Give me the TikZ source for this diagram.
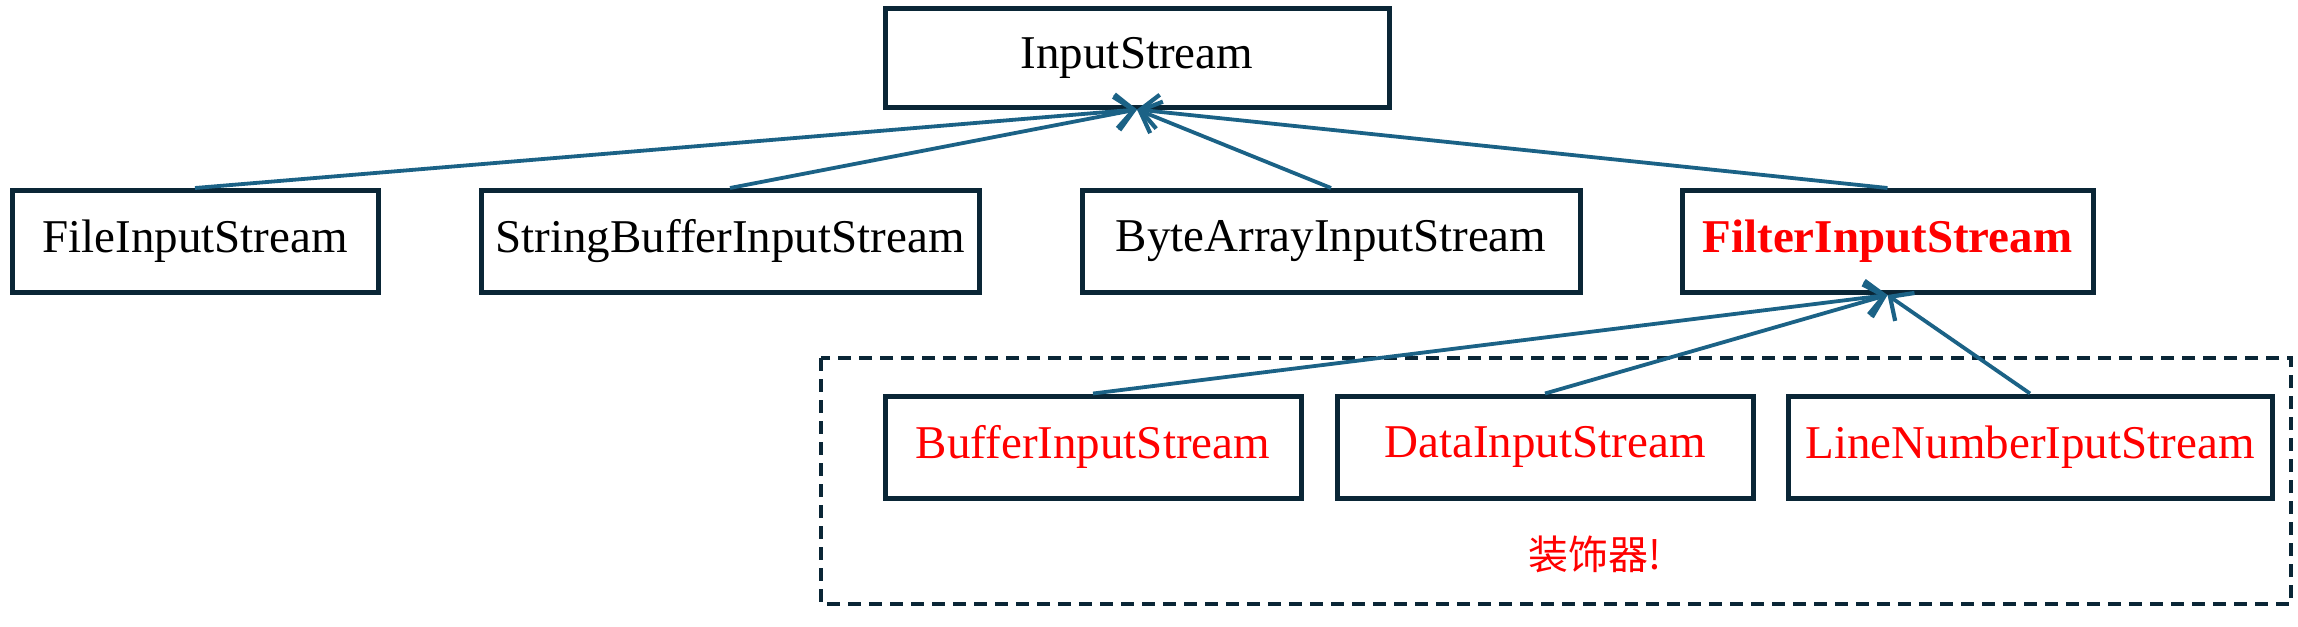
\documentclass[tikz,border=0pt]{standalone}
\usepackage{fontspec}
\setmainfont{Liberation Serif}
\newfontfamily\cjk{Noto Sans CJK SC}
\usetikzlibrary{arrows.meta}
\definecolor{boxline}{HTML}{0A2636}
\definecolor{arrowcol}{HTML}{1B6286}
\definecolor{redtxt}{HTML}{FF0000}
\tikzset{
  classbox/.style={draw=boxline, line width=5pt, fill=white, inner sep=2pt,
    minimum height=102pt, font=\fontsize{47}{56}\selectfont},
  redbox/.style={classbox, text=redtxt},
  inherit/.style={draw=arrowcol, line width=3.8pt,
    -{Straight Barb[length=18pt,width=34pt,line width=4.2pt]}},
}
\begin{document}
\begin{tikzpicture}[x=1pt,y=-1pt]
\useasboundingbox (0,0) rectangle (2298,626);
% dashed group
\draw[boxline, line width=4.5pt, dash pattern=on 13pt off 8pt] (821,358) rectangle (2291,604);
% nodes
\node[classbox, minimum width=504pt, minimum height=98pt] (is) at (1137,58) {InputStream};
\node[classbox, minimum width=366pt] (fis) at (195,241.5) {FileInputStream};
\node[classbox, minimum width=498pt] (sbis) at (730,241.5) {StringBufferInputStream};
\node[classbox, minimum width=498pt] (bais) at (1331,241.5) {ByteArrayInputStream};
\node[redbox, minimum width=411pt, font=\fontsize{47}{56}\selectfont\bfseries] (filt) at (1887.5,241.5) {FilterInputStream};
\node[redbox, minimum width=416pt] (buf) at (1093,447) {BufferInputStream};
\node[redbox, minimum width=416pt] (dat) at (1545,447) {DataInputStream};
\node[redbox, minimum width=484pt] (lin) at (2030,447) {LineNumberIputStream};
\node[text=redtxt, font=\cjk\fontsize{40}{44}\selectfont, inner sep=0pt] (deco) at (1595,554) {装饰器!};
% connectors
\draw[inherit] (fis.north) -- (is.south);
\draw[inherit] (sbis.north) -- (is.south);
\draw[inherit] (bais.north) -- (is.south);
\draw[inherit] (filt.north) -- (is.south);
\draw[inherit] (buf.north) -- (filt.south);
\draw[inherit] (dat.north) -- (filt.south);
\draw[inherit] (lin.north) -- (filt.south);
\end{tikzpicture}
\end{document}
